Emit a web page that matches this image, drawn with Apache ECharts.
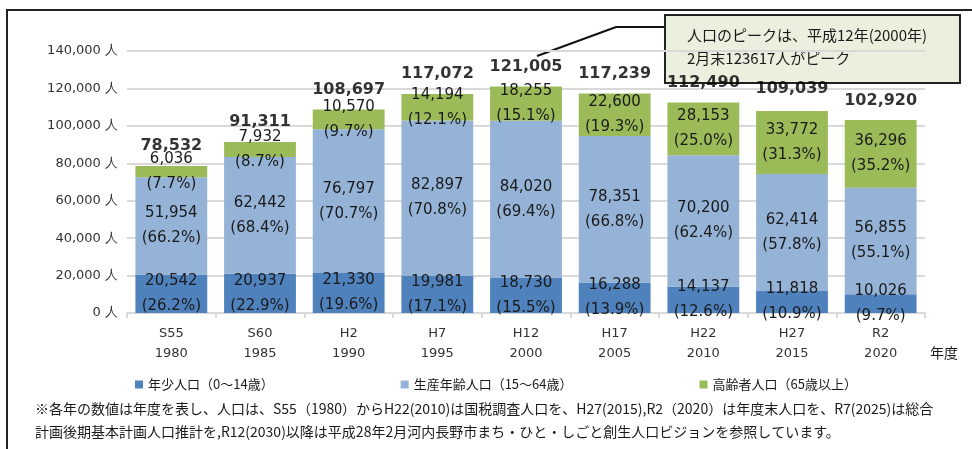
<!DOCTYPE html>
<html>
<head>
<meta charset="utf-8">
<script src="https://cdn.jsdelivr.net/npm/echarts@6/dist/echarts.min.js"></script>
<style>
  html, body { margin: 0; padding: 0; background: #fff; }
  #chart { width: 972px; height: 449px; }
</style>
</head>
<body>
<div id="chart"></div>
<script>
const categories = ["S55\n1980", "S60\n1985", "H2\n1990", "H7\n1995", "H12\n2000", "H17\n2005", "H22\n2010", "H27\n2015", "R2\n2020"];
const young = [20542, 20937, 21330, 19981, 18730, 16288, 14137, 11818, 10026];
const working = [51954, 62442, 76797, 82897, 84020, 78351, 70200, 62414, 56855];
const elderly = [6036, 7932, 10570, 14194, 18255, 22600, 28153, 33772, 36296];
const totals = [78532, 91311, 108697, 117072, 121005, 117239, 112490, 109039, 102920];
const youngPct = ["26.2", "22.9", "19.6", "17.1", "15.5", "13.9", "12.6", "10.9", "9.7"];
const workingPct = ["66.2", "68.4", "70.7", "70.8", "69.4", "66.8", "62.4", "57.8", "55.1"];
const elderlyPct = ["7.7", "8.7", "9.7", "12.1", "15.1", "19.3", "25.0", "31.3", "35.2"];
const seriesNames = ["年少人口（0～14歳）", "生産年齢人口（15～64歳）", "高齢者人口（65歳以上）"];

const numFont = "DejaVu Sans";
const jpFont = "Noto Sans CJK JP";
const fmt = (v) => v.toLocaleString("en-US");

function segLabel(pcts) {
  return {
    show: true,
    position: "inside",
    color: "#1a1a1a",
    fontFamily: numFont,
    fontSize: 15,
    lineHeight: 25,
    formatter: (p) => fmt(p.value) + "\n(" + pcts[p.dataIndex] + "%)",
  };
}

const myChart = echarts.init(document.getElementById("chart"));
const config = {
  backgroundColor: "#fff",
  animation: false,
  grid: { left: 127, right: 47, top: 51, bottom: 136 },
  legend: {
    data: seriesNames,
    left: 130,
    top: 373,
    icon: "rect",
    itemWidth: 8,
    itemHeight: 8,
    itemGap: 127,
    textStyle: { fontFamily: jpFont, fontSize: 13, color: "#1a1a1a" },
  },
  xAxis: {
    type: "category",
    data: categories,
    axisLine: { lineStyle: { color: "#d9d9d9", width: 2 } },
    axisTick: { show: true, length: 5, lineStyle: { color: "#d9d9d9", width: 2 } },
    axisLabel: {
      color: "#333",
      fontFamily: numFont,
      fontSize: 13,
      lineHeight: 20,
      margin: 11,
    },
  },
  yAxis: {
    type: "value",
    min: 0,
    max: 140000,
    interval: 20000,
    axisLine: { show: false },
    axisTick: { show: false },
    splitLine: { lineStyle: { color: "#d9d9d9", width: 2 } },
    axisLabel: {
      color: "#333",
      fontFamily: numFont,
      fontSize: 13,
      margin: 9,
      formatter: (v) => fmt(v) + " 人",
    },
  },
  series: [
    {
      name: seriesNames[0],
      type: "bar",
      stack: "pop",
      barCategoryGap: "19%",
      data: young,
      itemStyle: { color: "#4f81bd" },
      label: segLabel(youngPct),
    },
    {
      name: seriesNames[1],
      type: "bar",
      stack: "pop",
      data: working,
      itemStyle: { color: "#95b3d7" },
      label: segLabel(workingPct),
    },
    {
      name: seriesNames[2],
      type: "bar",
      stack: "pop",
      data: elderly,
      itemStyle: { color: "#9bbb59" },
      label: segLabel(elderlyPct),
    },
    {
      // 合計ラベル
      name: "total",
      type: "scatter",
      data: totals,
      symbolSize: 0,
      silent: true,
      label: {
        show: true,
        position: "top",
        distance: 12,
        color: "#000",
        fontFamily: numFont,
        fontWeight: "bold",
        fontSize: 16,
        formatter: (p) => fmt(p.value),
      },
    },
  ],
  graphic: [
    {
      type: "rect",
      shape: { x: 7, y: 10, width: 1000, height: 500 },
      style: { fill: null, stroke: "#222", lineWidth: 2 },
      silent: true,
    },
    {
      type: "polyline",
      shape: { points: [[537, 56], [616, 27], [665, 27]] },
      style: { fill: null, stroke: "#111", lineWidth: 2 },
    },
    {
      type: "rect",
      shape: { x: 665, y: 15, width: 295, height: 68 },
      style: { fill: "#ebf0de", stroke: "#222", lineWidth: 2 },
    },
    {
      type: "text",
      x: 687,
      y: 35,
      style: {
        text: "人口のピークは、平成12年(2000年)",
        font: "15px " + jpFont,
        fill: "#1a1a1a",
        textVerticalAlign: "middle",
      },
    },
    {
      type: "text",
      x: 687,
      y: 58,
      style: {
        text: "2月末123617人がピーク",
        font: "15px " + jpFont,
        fill: "#1a1a1a",
        textVerticalAlign: "middle",
      },
    },
    {
      type: "text",
      x: 930,
      y: 353,
      style: { text: "年度", font: "14px " + jpFont, fill: "#1a1a1a", textVerticalAlign: "middle" },
    },
    {
      type: "text",
      x: 35,
      y: 409,
      style: {
        text: "※各年の数値は年度を表し、人口は、S55（1980）からH22(2010)は国税調査人口を、H27(2015),R2（2020）は年度末人口を、R7(2025)は総合",
        font: "14px " + jpFont,
        fill: "#1a1a1a",
        textVerticalAlign: "middle",
      },
    },
    {
      type: "text",
      x: 35,
      y: 432,
      style: {
        text: "計画後期基本計画人口推計を,R12(2030)以降は平成28年2月河内長野市まち・ひと・しごと創生人口ビジョンを参照しています。",
        font: "14px " + jpFont,
        fill: "#1a1a1a",
        textVerticalAlign: "middle",
      },
    },
  ],
};
myChart.setOption(config);
</script>
</body>
</html>
